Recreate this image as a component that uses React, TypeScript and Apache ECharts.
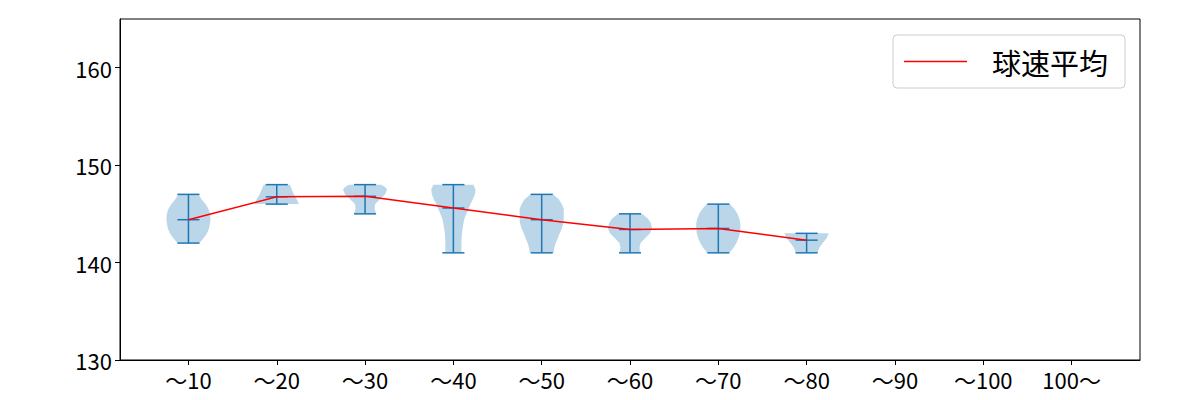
import React, { useEffect, useRef } from "react";
import * as echarts from "echarts";

const categories = ["～10", "～20", "～30", "～40", "～50", "～60", "～70", "～80", "～90", "～100", "100～"];
const mins = [142, 146, 145, 141, 141, 141, 141, 141];
const maxs = [147, 148, 148, 148, 147, 145, 146, 143];
const means = [144.4, 146.75, 146.8, 145.6, 144.4, 143.4, 143.5, 142.3];
// density profiles: [value, relative half-width]
const profile1 = [[147, 10], [146.5, 13], [146, 17], [145.5, 20], [145, 21.5], [144.5, 22], [144, 21.5], [143.5, 20.5], [143, 18.5], [142.5, 15], [142, 11]];
const profile2 = [[148, 13], [147.5, 15], [147, 17], [146.5, 20], [146, 22]];
const profile3 = [[148, 16], [147.75, 20], [147.5, 22], [147, 20], [146.5, 15], [146, 10], [145.5, 9.5], [145, 11]];
const profile4 = [[148, 20], [147.5, 22], [147, 21.5], [146.5, 19.5], [146, 17], [145.5, 15], [145, 13], [144.5, 11], [144, 10], [143, 8.5], [142, 8], [141, 8]];
const profile5 = [[147, 11], [146.5, 17], [146, 20], [145.5, 22], [145, 22], [144.5, 22], [144, 21.5], [143.5, 20], [143, 18], [142.5, 16], [142, 14], [141.5, 12.5], [141, 12]];
const profile6 = [[145, 12], [144.5, 18], [144, 21], [143.5, 22], [143, 20], [142.5, 15], [142, 10.5], [141.5, 9.5], [141, 10]];
const profile7 = [[146, 11.5], [145.5, 16], [145, 19], [144.5, 21], [144, 22], [143.5, 22], [143, 21.5], [142.5, 20], [142, 18], [141.5, 15], [141, 11]];
const profile8 = [[143, 22], [142.5, 20], [142, 16], [141.5, 12.5], [141, 11]];
const profiles = [profile1, profile2, profile3, profile4, profile5, profile6, profile7, profile8];

const BLUE = "#1f77b4";
const FONT = "Noto Sans CJK JP";

export default function App() {
  const ref = useRef<HTMLDivElement>(null);
  useEffect(() => {
    document.body.style.margin = "0";
    const chart = echarts.init(ref.current!, null, { renderer: "svg" });
    const violinData = mins.map((mn, i) => [i + 1, mn, maxs[i], means[i]]);
    const meanData = means.map((m, i) => [i + 1, m]);
    const positions = categories.map((_, i) => i + 1);
    chart.setOption({
      animation: false,
      grid: { left: 120, right: 60, top: 19, bottom: 40, show: true, borderColor: "#000", borderWidth: 1, backgroundColor: "transparent" },
      xAxis: {
        type: "value",
        min: 0.225,
        max: 11.775,
        splitLine: { show: false },
        axisLine: { show: true, lineStyle: { color: "#000", width: 1 } },
        axisTick: { show: true, customValues: positions, length: 5, lineStyle: { color: "#000" } },
        axisLabel: {
          customValues: positions,
          formatter: (v: number) => categories[Math.round(v) - 1] ?? "",
          color: "#000",
          fontSize: 22,
          fontFamily: FONT,
          margin: 8,
        },
      },
      yAxis: {
        type: "value",
        min: 130,
        max: 165,
        interval: 10,
        splitLine: { show: false },
        axisLine: { show: true, lineStyle: { color: "#000", width: 1 } },
        axisTick: { show: true, length: 5, lineStyle: { color: "#000" } },
        axisLabel: { color: "#000", fontSize: 22, fontFamily: FONT, margin: 8, showMaxLabel: false },
      },
      legend: {
        left: 893,
        top: 35,
        padding: [12, 17, 12, 11],
        itemWidth: 63,
        itemHeight: 14,
        borderColor: "#cccccc",
        borderWidth: 1,
        borderRadius: 4,
        data: [{ name: "球速平均", icon: "path://M0,0 L63,0 L63,1.5 L0,1.5 Z" }],
        textStyle: { fontSize: 29, fontFamily: FONT, color: "#000", lineHeight: 29, padding: [0, 0, 0, 20] },
      },
      series: [
        {
          type: "custom",
          name: "violin",
          z: 2,
          clip: true,
          data: violinData,
          renderItem: (params: any, api: any) => {
            const idx = params.dataIndex;
            const pos = api.value(0);
            const mn = api.value(1);
            const mx = api.value(2);
            const mean = api.value(3);
            const prof = profiles[idx];
            const maxW = Math.max(...prof.map((p) => p[1]));
            const right = prof.map((p) => api.coord([pos + (p[1] / maxW) * 0.25, p[0]]));
            const left = prof.slice().reverse().map((p) => api.coord([pos - (p[1] / maxW) * 0.25, p[0]]));
            const top = api.coord([pos, mx]);
            const bot = api.coord([pos, mn]);
            const mid = api.coord([pos, mean]);
            const capL = api.coord([pos - 0.125, mx])[0];
            const capR = api.coord([pos + 0.125, mx])[0];
            const ls = { stroke: BLUE, lineWidth: 1.5 };
            return {
              type: "group",
              children: [
                { type: "polygon", shape: { points: right.concat(left) }, style: { fill: "rgba(31,119,180,0.3)", stroke: "none" } },
                { type: "line", shape: { x1: top[0], y1: top[1], x2: bot[0], y2: bot[1] }, style: ls },
                { type: "line", shape: { x1: capL, y1: top[1], x2: capR, y2: top[1] }, style: ls },
                { type: "line", shape: { x1: capL, y1: bot[1], x2: capR, y2: bot[1] }, style: ls },
                { type: "line", shape: { x1: capL, y1: mid[1], x2: capR, y2: mid[1] }, style: ls },
              ],
            };
          },
        },
        {
          type: "line",
          name: "球速平均",
          z: 3,
          data: meanData,
          symbol: "none",
          lineStyle: { color: "#ff0000", width: 1.5 },
          itemStyle: { color: "#ff0000" },
        },
      ],
    });
    return () => chart.dispose();
  }, []);
  return <div ref={ref} style={{ width: 1200, height: 400 }} />;
}
